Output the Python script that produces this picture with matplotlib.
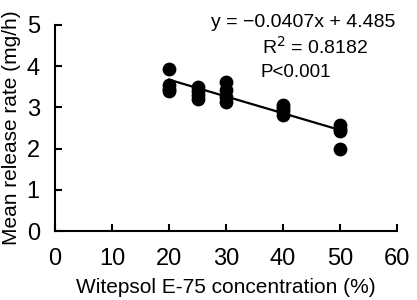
import numpy as np
import matplotlib
matplotlib.use('Agg')
import matplotlib.pyplot as plt

plt.rcParams['font.family'] = ['Liberation Sans', 'DejaVu Sans']

# Witepsol E-75 concentration (%) と放出速度 (mg/h)
conc = [20, 20, 20, 20, 25, 25, 25, 25, 30, 30, 30, 30, 40, 40, 40, 40, 50, 50, 50, 50]
rate = [3.93, 3.55, 3.45, 3.39, 3.50, 3.39, 3.30, 3.21, 3.62, 3.43, 3.25, 3.14,
        3.06, 2.98, 2.90, 2.82, 2.57, 2.48, 2.43, 1.99]
slope = -0.0407
intercept = 4.485
fit_x = [20, 50]

fig = plt.figure(figsize=(4.17, 3.0), dpi=100)
ax = fig.add_axes([0.132, 0.23, 0.82, 0.687])

ax.scatter(conc, rate, s=80, color='black', zorder=3)
fx = np.array(fit_x)
ax.plot(fx, slope * fx + intercept, color='black', linewidth=1.6)

ax.set_xlim(0, 60)
ax.set_ylim(0, 5)
ax.set_xticks(range(0, 61, 10))
ax.set_yticks(range(0, 6))
for s in ['top', 'right']:
    ax.spines[s].set_visible(False)
for s in ['left', 'bottom']:
    ax.spines[s].set_linewidth(1.5)
ax.tick_params(direction='in', length=5, width=1.5, labelsize=17)
ax.tick_params(axis='x', pad=12)
ax.tick_params(axis='y', pad=11)

ax.set_xlabel('Witepsol E-75 concentration (%)', fontsize=15, labelpad=6)
ax.set_ylabel('Mean release rate (mg/h)', fontsize=15, labelpad=4)

ax.text(0.995, 1.01, 'y = \u22120.0407x + 4.485', transform=ax.transAxes,
        ha='right', va='center', fontsize=14)
ax.text(0.76, 0.895, 'R$^2$ = 0.8182', transform=ax.transAxes,
        ha='center', va='center', fontsize=14)
ax.text(0.705, 0.77, 'P<0.001', transform=ax.transAxes,
        ha='center', va='center', fontsize=13.5)

fig.savefig('out.png', dpi=100)
